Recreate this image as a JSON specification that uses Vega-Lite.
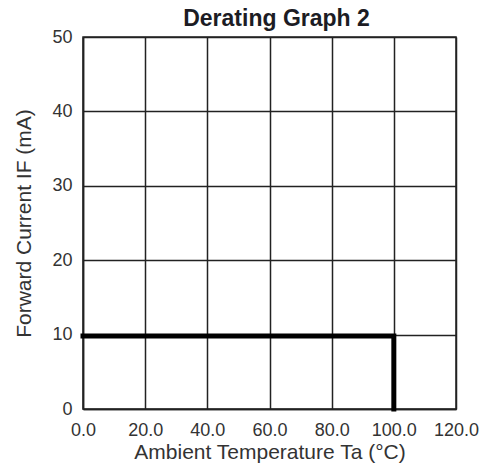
{
  "$schema": "https://vega.github.io/schema/vega-lite/v6.json",
  "width": 373,
  "height": 372,
  "autosize": "none",
  "padding": {"left": 83, "top": 37, "right": 31, "bottom": 59},
  "background": "white",
  "config": {
    "font": "Liberation Sans",
    "view": {"stroke": "#222222", "strokeWidth": 1.5},
    "axis": {
      "domainColor": "#222222",
      "domainWidth": 1.5,
      "gridColor": "#222222",
      "gridWidth": 1.5,
      "gridOpacity": 1,
      "ticks": false,
      "labelFont": "Liberation Sans",
      "labelFontSize": 18,
      "labelColor": "#333333",
      "titleFont": "Liberation Sans",
      "titleFontSize": 21,
      "titleFontWeight": "normal",
      "titleColor": "#333333"
    }
  },
  "title": {
    "text": "Derating Graph 2",
    "font": "Liberation Sans",
    "fontSize": 23,
    "fontWeight": "bold",
    "color": "#1c1c24",
    "anchor": "middle",
    "dx": 7,
    "offset": -3
  },
  "data": {
    "values": [
      {"ta": 0, "current": 9.8, "ord": 1},
      {"ta": 100, "current": 9.8, "ord": 2},
      {"ta": 100, "current": 0, "ord": 3}
    ]
  },
  "mark": {"type": "line", "color": "#000000", "strokeWidth": 5, "strokeCap": "square", "strokeJoin": "miter", "clip": false},
  "encoding": {
    "x": {
      "field": "ta",
      "type": "quantitative",
      "scale": {"domain": [0, 120], "nice": false, "zero": false},
      "axis": {
        "values": [0, 20, 40, 60, 80, 100, 120],
        "format": ".1f",
        "labelFlush": false,
        "labelPadding": 12,
        "title": "Ambient Temperature Ta (°C)",
        "titlePadding": 2
      }
    },
    "y": {
      "field": "current",
      "type": "quantitative",
      "scale": {"domain": [0, 50], "nice": false},
      "axis": {
        "values": [0, 10, 20, 30, 40, 50],
        "labelFlush": false,
        "labelPadding": 11,
        "title": "Forward Current IF (mA)",
        "titlePadding": 17
      }
    },
    "order": {"field": "ord", "type": "quantitative"}
  }
}
